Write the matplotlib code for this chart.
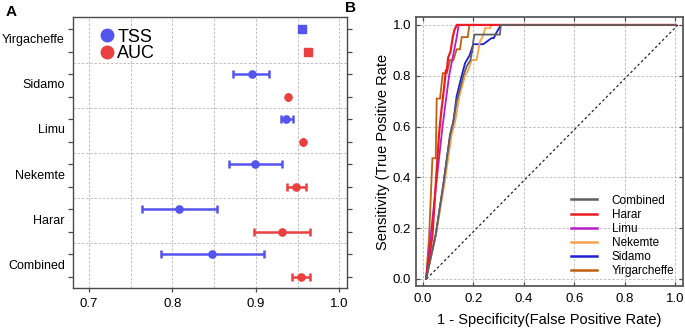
import matplotlib
matplotlib.use("Agg")
import matplotlib.pyplot as plt
from matplotlib.lines import Line2D

plt.rcParams['font.family'] = ['Liberation Sans', 'DejaVu Sans']

# ---- Panel A: TSS / AUC with intervals per region ----
regions = ["Yirgacheffe", "Sidamo", "Limu", "Nekemte", "Harar", "Combined"]
tss = [0.955, 0.895, 0.936, 0.899, 0.808, 0.848]
tss_lo = [0.952, 0.873, 0.930, 0.868, 0.764, 0.787]
tss_hi = [0.958, 0.916, 0.944, 0.931, 0.854, 0.910]
auc = [0.963, 0.938, 0.957, 0.948, 0.931, 0.954]
auc_lo = [0.963, 0.938, 0.957, 0.937, 0.898, 0.943]
auc_hi = [0.963, 0.938, 0.957, 0.960, 0.965, 0.965]
a_xticks = [0.7, 0.8, 0.9, 1.0]

# ---- Panel B: ROC curves (false positive rate, true positive rate) ----
roc_names = ["Combined", "Harar", "Limu", "Nekemte", "Sidamo", "Yirgarcheffe"]
roc_fpr = {
    "Combined": [0.013, 0.051, 0.081, 0.108, 0.121, 0.134, 0.150, 0.160, 0.175, 0.188, 0.196, 0.200, 0.204, 0.305, 0.309, 1.0],
    "Harar": [0.013, 0.038, 0.051, 0.064, 0.072, 0.085, 0.091, 0.095, 0.100, 0.110, 0.118, 0.125, 0.135, 1.0],
    "Limu": [0.013, 0.045, 0.078, 0.104, 0.116, 0.124, 0.134, 0.142, 1.0],
    "Nekemte": [0.013, 0.052, 0.085, 0.114, 0.128, 0.145, 0.167, 0.180, 0.193, 0.213, 0.226, 0.240, 0.246, 0.266, 0.272, 1.0],
    "Sidamo": [0.013, 0.051, 0.081, 0.108, 0.121, 0.134, 0.154, 0.167, 0.185, 0.200, 0.239, 0.272, 0.281, 0.290, 0.309, 1.0],
    "Yirgarcheffe": [0.013, 0.025, 0.038, 0.051, 0.055, 0.068, 0.079, 0.095, 0.108, 0.121, 0.134, 0.147, 0.154, 0.178, 0.184, 1.0],
}
roc_tpr = {
    "Combined": [0.0, 0.173, 0.37, 0.567, 0.62, 0.70, 0.76, 0.80, 0.84, 0.86, 0.90, 0.936, 0.962, 0.962, 1.0, 1.0],
    "Harar": [0.0, 0.17, 0.37, 0.567, 0.65, 0.76, 0.82, 0.82, 0.87, 0.896, 0.949, 0.98, 1.0, 1.0],
    "Limu": [0.0, 0.30, 0.60, 0.80, 0.86, 0.90, 0.95, 1.0, 1.0],
    "Nekemte": [0.0, 0.173, 0.37, 0.567, 0.62, 0.72, 0.80, 0.823, 0.862, 0.862, 0.934, 0.96, 0.987, 0.987, 1.0, 1.0],
    "Sidamo": [0.0, 0.173, 0.37, 0.567, 0.62, 0.72, 0.80, 0.849, 0.88, 0.924, 0.924, 0.948, 0.948, 0.967, 1.0, 1.0],
    "Yirgarcheffe": [0.0, 0.17, 0.475, 0.475, 0.71, 0.71, 0.81, 0.81, 0.862, 0.862, 0.904, 0.904, 0.952, 0.952, 1.0, 1.0],
}
roc_colors = {
    "Combined": "#5f5f5f",
    "Harar": "#ec1c24",
    "Limu": "#b41ec8",
    "Nekemte": "#f7a14c",
    "Sidamo": "#1f1fd2",
    "Yirgarcheffe": "#c0600e",
}
b_ticks = [0.0, 0.2, 0.4, 0.6, 0.8, 1.0]

blue = "#5454ee"
red = "#ea4040"
spine_c = "#4a4a4a"
grid_kw = dict(color="#b5b5b5", linestyle=(0, (3, 2)), linewidth=0.6)

fig = plt.figure(figsize=(6.85, 3.29), dpi=100)

# ---------------- Panel A ----------------
axA = fig.add_axes([0.1066, 0.1246, 0.4004, 0.8237])
n = len(regions)
for g in range(n):
    y_t = 2 * g
    y_a = 2 * g + 1
    mk = "s" if regions[g] == "Yirgacheffe" else "o"
    axA.errorbar(tss[g], y_t,
                 xerr=[[tss[g] - tss_lo[g]], [tss_hi[g] - tss[g]]],
                 fmt=mk, color=blue, ecolor=blue, markersize=5.2,
                 elinewidth=1.8, capsize=3.2, capthick=1.8, zorder=3)
    axA.errorbar(auc[g], y_a,
                 xerr=[[auc[g] - auc_lo[g]], [auc_hi[g] - auc[g]]],
                 fmt=mk, color=red, ecolor=red, markersize=5.2,
                 elinewidth=1.8, capsize=3.2, capthick=1.8, zorder=3)

axA.set_xlim(0.681, 1.0096)
axA.set_ylim(11.49, -0.53)
axA.set_xticks(a_xticks)
axA.set_xticklabels([f"{v:.1f}" for v in a_xticks])
axA.set_xticks([0.75, 0.85, 0.95], minor=True)
axA.set_yticks(range(2 * n))
axA.set_yticklabels([])
axA.tick_params(axis="y", which="both", direction="out", length=3.5,
                left=True, right=True, color=spine_c, width=0.9)
axA.tick_params(axis="x", which="major", direction="out", length=3,
                color=spine_c, labelsize=9.5, pad=4, width=0.9)
axA.tick_params(axis="x", which="minor", length=0)
for g in range(n):
    axA.text(-0.03, 2 * g + 0.5, regions[g], transform=axA.get_yaxis_transform(),
             ha="right", va="center", fontsize=9)
axA.grid(True, axis="x", which="both", **grid_kw)
for b in [1.5, 3.5, 5.5, 7.5, 9.5]:
    axA.axhline(b, zorder=0, **grid_kw)
for s in axA.spines.values():
    s.set_color(spine_c)
    s.set_linewidth(1.0)
axA.set_axisbelow(True)

handles_a = [
    Line2D([], [], linestyle="none", marker="o", color=blue, markersize=9),
    Line2D([], [], linestyle="none", marker="o", color=red, markersize=9),
]
axA.legend(handles_a, ["TSS", "AUC"], loc="upper left", bbox_to_anchor=(0.05, 1.0),
           frameon=False, fontsize=13, handletextpad=0.05, labelspacing=-0.05,
           borderaxespad=0.25, handlelength=1.0)

fig.text(0.008, 0.965, "A", fontsize=11, fontweight="bold", va="center")

# ---------------- Panel B ----------------
axB = fig.add_axes([0.6073, 0.1307, 0.3898, 0.8167])
axB.plot([0.015, 1.01], [0.0, 1.0], color="#222222", linestyle=(0, (2, 2)),
         linewidth=0.9, zorder=2)
for name in reversed(roc_names):
    lw = 1.6 if name == "Harar" else 1.3
    axB.plot(roc_fpr[name], roc_tpr[name], color=roc_colors[name], linewidth=lw,
             zorder=3, solid_joinstyle="miter")

axB.set_xlim(-0.027, 1.03)
axB.set_ylim(-0.028, 1.03)
axB.set_xticks(b_ticks)
axB.set_yticks(b_ticks)
axB.set_xticklabels([f"{v:.1f}" for v in b_ticks])
axB.set_yticklabels([f"{v:.1f}" for v in b_ticks])
axB.tick_params(direction="in", length=3, top=True, right=True,
                color=spine_c, labelsize=9.5, width=0.9)
axB.tick_params(axis="x", pad=5)
axB.grid(True, **grid_kw)
axB.set_axisbelow(True)
for s in axB.spines.values():
    s.set_color("#5a5a5a")
    s.set_linewidth(1.3)
axB.set_xlabel("1 - Specificity(False Positive Rate)", fontsize=10.5, labelpad=6)
axB.set_ylabel("Sensitivity (True Positive Rate", fontsize=10.5, labelpad=2)

handles_b = [Line2D([], [], color=roc_colors[nm], linewidth=1.8) for nm in roc_names]
axB.legend(handles_b, roc_names, loc="lower right", frameon=False, fontsize=8.5,
           handlelength=2.2, handletextpad=1.2, labelspacing=0.18,
           borderaxespad=0.35)

fig.text(0.503, 0.975, "B", fontsize=11, fontweight="bold", va="center")

fig.savefig("out.png", dpi=100)
